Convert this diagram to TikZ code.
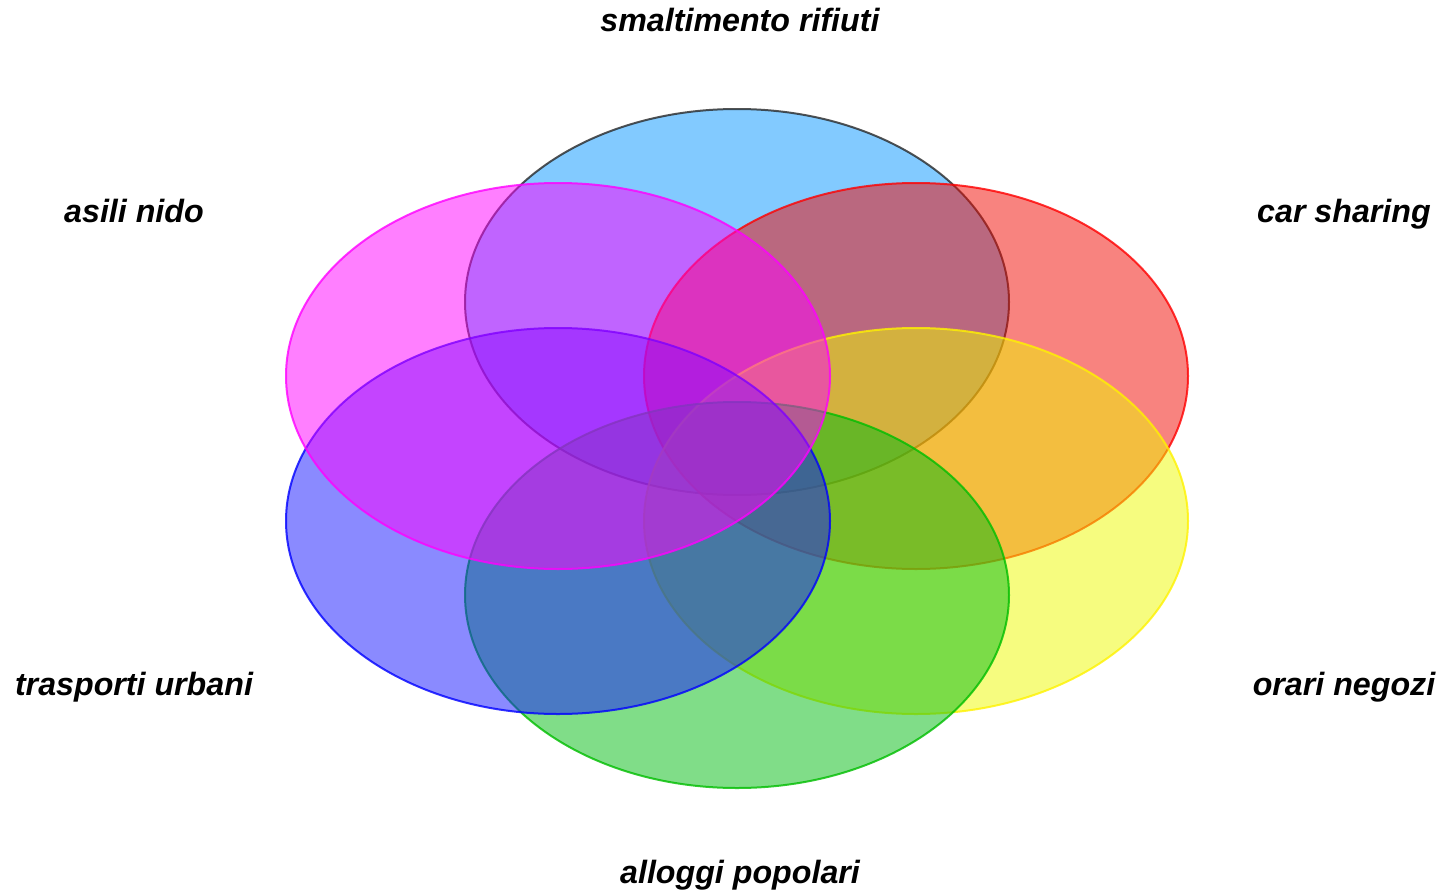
\documentclass[tikz,border=0pt]{standalone}
\usepackage{fontspec}
\setmainfont{Liberation Sans}
\begin{document}
\begin{tikzpicture}[x=1pt,y=-1pt,
  setell/.style={line width=2pt, fill opacity=0.5, draw opacity=0.8},
  lbl/.style={font=\fontsize{32.2}{38}\selectfont\bfseries\itshape, anchor=base, inner sep=0pt}]
\useasboundingbox (0,0) rectangle (1440,891);
\definecolor{cSky}{RGB}{5,149,255}
\definecolor{cSkyB}{RGB}{40,40,40}
\definecolor{cRed}{RGB}{242,8,0}
\definecolor{cMag}{RGB}{255,0,255}
\definecolor{cYel}{RGB}{238,250,0}
\definecolor{cBlu}{RGB}{22,22,255}
\definecolor{cGrn}{RGB}{2,188,18}
\definecolor{cGrnB}{RGB}{0,190,0}
% ellipses
\path[setell, fill=cSky, draw=cSkyB] (737,302) ellipse [x radius=272, y radius=193];
\path[setell, fill=cRed, draw=red] (916,376) ellipse [x radius=272, y radius=193];
\path[setell, fill=cYel, draw=yellow] (916,521) ellipse [x radius=272, y radius=193];
\path[setell, fill=cGrn, draw=cGrnB] (737,595) ellipse [x radius=272, y radius=193];
\path[setell, fill=cBlu, draw=blue] (558,521) ellipse [x radius=272, y radius=193];
\path[setell, fill=cMag, draw=cMag] (558,376) ellipse [x radius=272, y radius=193];
% labels
\node[lbl] (t1) at (740,32) {smaltimento rifiuti};
\node[lbl] (t2) at (134,222) {asili nido};
\node[lbl] (t3) at (1344,222) {car sharing};
\node[lbl] (t4) at (134,695) {trasporti urbani};
\node[lbl] (t5) at (1344,695) {orari negozi};
\node[lbl] (t6) at (740,883) {alloggi popolari};
\end{tikzpicture}
\end{document}
